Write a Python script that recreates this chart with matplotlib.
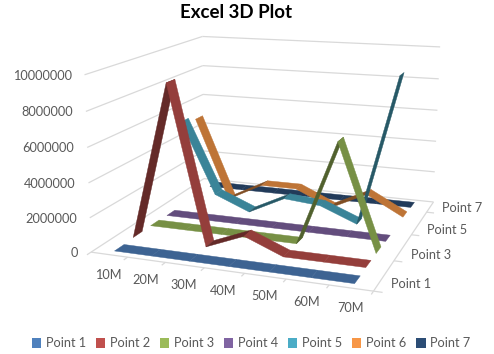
import matplotlib
matplotlib.use("Agg")
import matplotlib.pyplot as plt
import numpy as np
from matplotlib.patches import Patch
from mpl_toolkits.mplot3d import proj3d
from mpl_toolkits.mplot3d.art3d import Line3DCollection, Poly3DCollection

categories = ["10M", "20M", "30M", "40M", "50M", "60M", "70M"]
series_names = ["Point 1", "Point 2", "Point 3", "Point 4", "Point 5", "Point 6", "Point 7"]
z_ticks = [0, 2000000, 4000000, 6000000, 8000000, 10000000]

point1 = [50000, 50000, 50000, 50000, 50000, 50000, 50000]
point2 = [100000, 9300000, 100000, 1000000, 100000, 100000, 100000]
point3 = [100000, 100000, 100000, 100000, 100000, 6200000, 100000]
point4 = [50000, 50000, 50000, 50000, 50000, 50000, 50000]
point5 = [5500000, 1000000, 100000, 1200000, 1000000, 100000, 9200000]
point6 = [5200000, 50000, 1200000, 1200000, 200000, 1300000, 100000]
point7 = [50000, 50000, 50000, 50000, 50000, 50000, 50000]
all_series = [point1, point2, point3, point4, point5, point6, point7]

colors = ["#4F81BD", "#C0504D", "#9BBB59", "#8064A2", "#4BACC6", "#F79646", "#2C4D75"]
GRID = "#D9D9D9"
TEXT = "#595959"
HALF_DEPTH = 0.25

plt.rcParams["font.family"] = ["Lato", "DejaVu Sans"]

W, H = 494, 354
fig = plt.figure(figsize=(W / 100, H / 100), dpi=100)
ax = fig.add_axes([0, 0, 1, 1], projection="3d")
ax.set_axis_off()
ax.computed_zorder = False
ax.apply_aspect()

nx, ny = len(categories), len(series_names)
zmax = z_ticks[-1]

# box corners in the picture, used to solve the camera
corners = [
    ((0, 0, 0), (92, 253)),
    ((nx, 0, 0), (373, 291)),
    ((nx, ny, 0), (434, 202)),
    ((0, ny, 0), (203, 178)),
    ((0, 0, zmax), (84, 74)),
    ((0, ny, zmax), (203, 37)),
    ((nx, ny, zmax), (440, 47)),
]


def solve_camera():
    to_view = ax.transData.inverted()
    rows, rhs = [], []
    for (x, y, z), (px, py) in corners:
        u, v = to_view.transform((px, H - py))
        z = z / zmax
        rows.append([x, y, z, 1, 0, 0, 0, 0, -u * x, -u * y, -u * z])
        rhs.append(u)
        rows.append([0, 0, 0, 0, x, y, z, 1, -v * x, -v * y, -v * z])
        rhs.append(v)
    p = np.linalg.lstsq(np.array(rows, float), np.array(rhs, float), rcond=None)[0]
    return np.array([
        [p[0], p[1], p[2] / zmax, p[3]],
        [p[4], p[5], p[6] / zmax, p[7]],
        [0, 1, 0, 0],
        [p[8], p[9], p[10] / zmax, 1],
    ])


M = solve_camera()
ax.get_proj = lambda: M
ax.M = M


def shade(color, factor):
    return tuple(c * factor for c in matplotlib.colors.to_rgb(color))


def label(x, y, z, text, dx, dy, ha="center", va="center"):
    u, v, _ = proj3d.proj_transform(x, y, z, M)
    ax.annotate(text, (u, v), xytext=(dx, dy), textcoords="offset pixels", ha=ha, va=va,
                color=TEXT, fontsize=9.2, annotation_clip=False)


# walls and floor
segments = []
for value in z_ticks:
    segments.append([(0, 0, value), (0, ny, value)])
    segments.append([(0, ny, value), (nx, ny, value)])
segments.append([(0, 0, 0), (nx, 0, 0)])
segments.append([(nx, 0, 0), (nx, ny, 0)])
for i in range(nx + 1):
    segments.append([(i, 0, 0), (i, -0.2, 0)])
for j in range(0, ny + 1, 2):
    segments.append([(nx, j, 0), (nx + 0.2, j, 0)])
grid = Line3DCollection(segments, colors=GRID, linewidths=0.9)
grid.set_clip_on(False)
grid.set_zorder(1)
ax.add_collection3d(grid, autolim=False)

# ribbons, back to front
for j in range(ny - 1, -1, -1):
    values = all_series[j]
    y0, y1 = j + 0.5 - HALF_DEPTH, j + 0.5 + HALF_DEPTH
    for i in range(nx - 1):
        za, zb = values[i], values[i + 1]
        quad = [(i + 0.5, y0, za), (i + 1.5, y0, zb), (i + 1.5, y1, zb), (i + 0.5, y1, za)]
        c = shade(colors[j], 0.52 if zb - za > 200000 else 0.77)
        poly = Poly3DCollection([quad], facecolors=[c], edgecolors=[c], linewidths=0.3)
        poly.set_clip_on(False)
        poly.set_zorder(10 + (ny - j) * 10 + i)
        ax.add_collection3d(poly, autolim=False)

# tick labels
for value in z_ticks:
    label(0, 0, value, str(value), -13, -1, ha="right")
for i, name in enumerate(categories):
    label(i + 0.5, 0, 0, name, -1, -20)
for j in range(0, ny, 2):
    label(nx, j + 0.5, 0, series_names[j], 12, -1, ha="left")

fig.text(236 / W, 1 - 12 / H, "Excel 3D Plot", ha="center", va="center", fontsize=13.5,
         fontweight="bold", color="black")

handles = [Patch(facecolor=c, label=n) for c, n in zip(colors, series_names)]
fig.legend(handles=handles, ncol=7, loc="center", bbox_to_anchor=(0.508, 0.03), frameon=False,
           fontsize=9.2, labelcolor=TEXT, handlelength=0.75, handleheight=0.75, handletextpad=0.35,
           columnspacing=0.77, borderpad=0)

fig.savefig("out.png", dpi=100)
